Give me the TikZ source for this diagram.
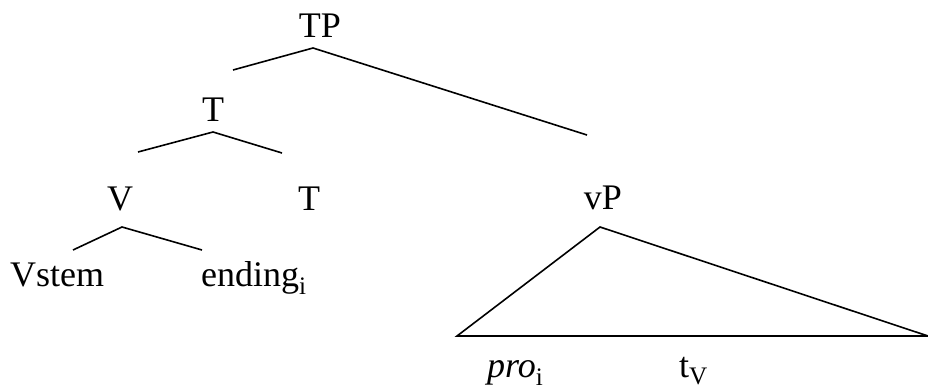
\documentclass[tikz,border=0pt]{standalone}
\usepackage{fontspec}
\setmainfont{Liberation Serif}
\begin{document}
\begin{tikzpicture}[x=1pt,y=-1pt,
  lab/.style={anchor=base,inner sep=0pt,font=\fontsize{36}{40}\selectfont},
  br/.style={line width=1.6pt,line join=miter}]
\useasboundingbox (0,0) rectangle (928,390);
% labels
\node[lab] (tp) at (320,38) {TP};
\node[lab] (t1) at (213,122) {T};
\node[lab] (v) at (120,210) {V};
\node[lab] (t2) at (309,210) {T};
\node[lab] (vp) at (603,209) {vP};
\node[lab,anchor=base west] (vstem) at (10,286) {Vstem};
\node[lab,anchor=base west] (ending) at (201,286) {ending\textsubscript{i}};
\node[lab,anchor=base west] (pro) at (487,377) {\textit{pro}\textsubscript{i}};
\node[lab,anchor=base west] (tv) at (679,377) {t\textsubscript{V}};
% branch points
\coordinate (tpa) at (313,48);
\coordinate (tpl) at (233,70);
\coordinate (tpr) at (587,135);
\coordinate (t1a) at (213,132);
\coordinate (t1l) at (138,152);
\coordinate (t1r) at (282,153);
\coordinate (va) at (122,227);
\coordinate (vl) at (73,250);
\coordinate (vr) at (202,250);
\coordinate (vpa) at (600,227);
\coordinate (vpl) at (457,336);
\coordinate (vpr) at (928,336);
\draw[br] (tpl) -- (tpa) -- (tpr);
\draw[br] (t1l) -- (t1a) -- (t1r);
\draw[br] (vl) -- (va) -- (vr);
\draw[br] (vpl) -- (vpa) -- (vpr) -- cycle;
\end{tikzpicture}
\end{document}
